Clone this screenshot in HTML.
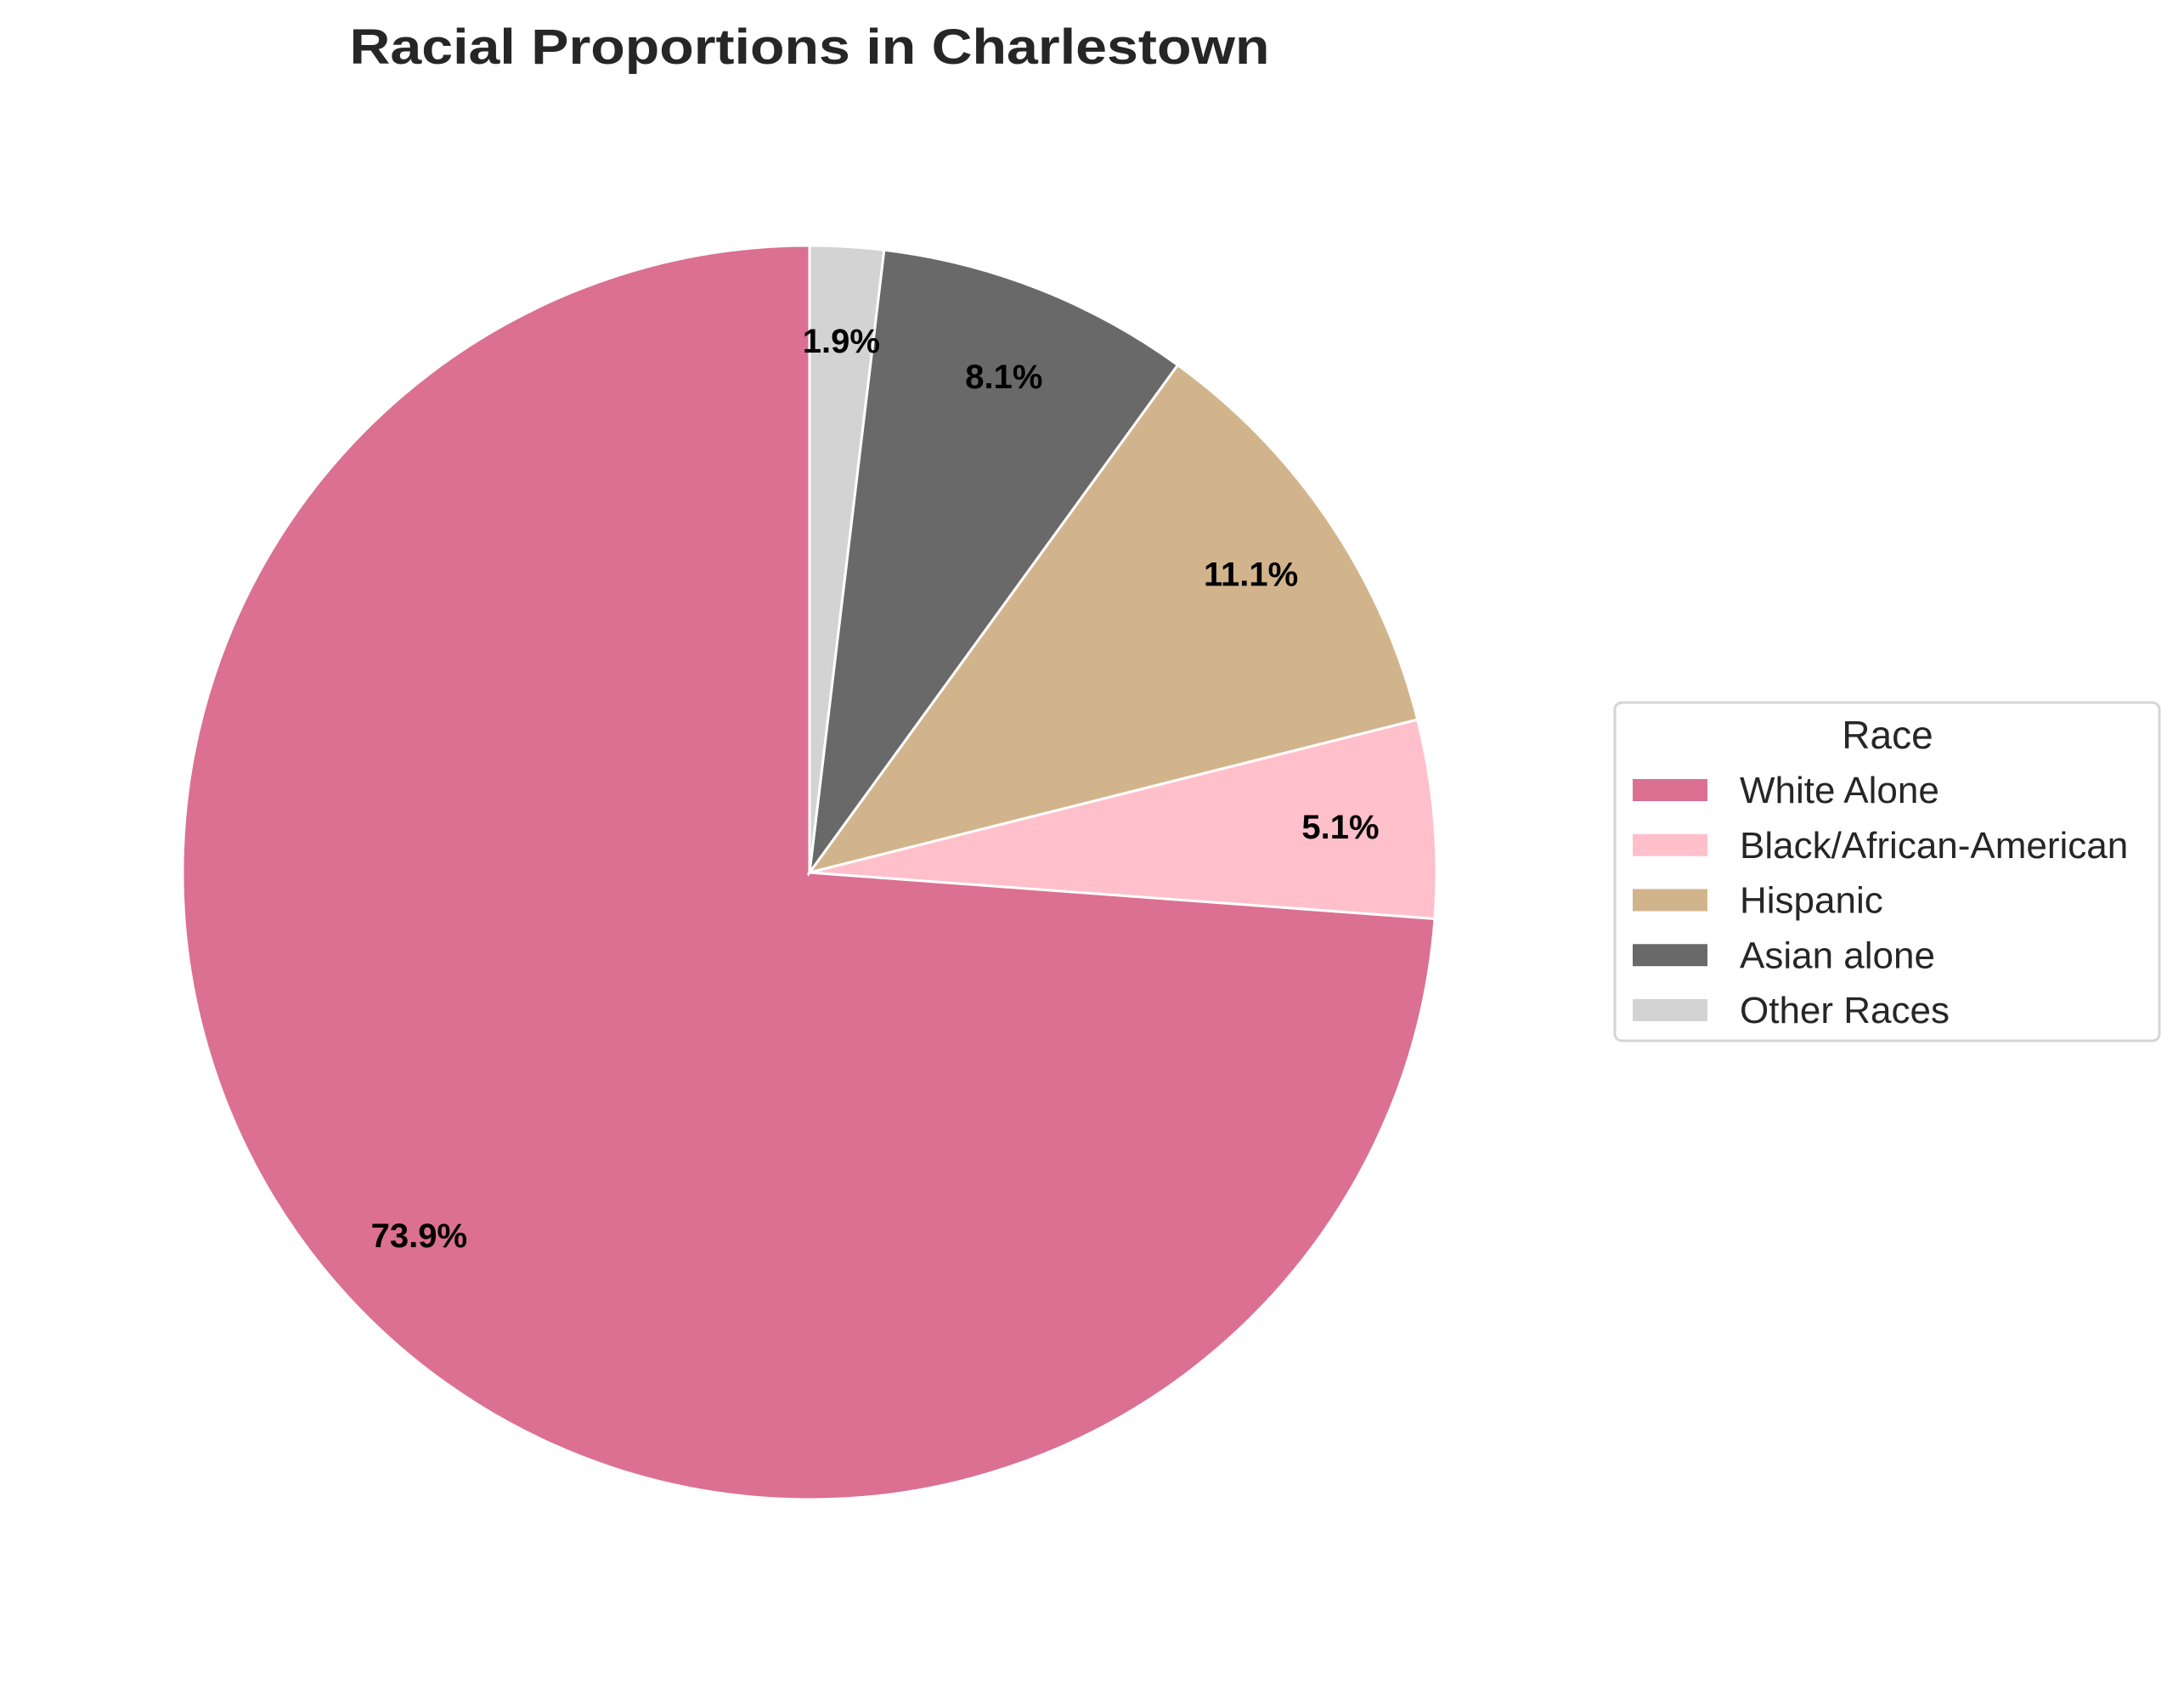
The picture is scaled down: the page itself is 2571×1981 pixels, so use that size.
<!DOCTYPE html>
<html><head><meta charset="utf-8"><style>
html,body{margin:0;padding:0;background:#fff;}
svg{display:block;font-family:"Liberation Sans",Arial,sans-serif;}
</style></head><body>
<svg id="chart" width="2571" height="1981" viewBox="0 0 2571 1981">
<text x="953" y="75" text-anchor="middle" font-size="58" font-weight="bold" fill="#262626" textLength="1083" lengthAdjust="spacingAndGlyphs">Racial Proportions in Charlestown</text>
<g id="slices"></g>
<g id="labels"></g>
<g>
<rect x="1901" y="827" width="641" height="398" rx="8" fill="#fff" stroke="#d5d5d5" stroke-width="3"/>
<text x="2222" y="881" text-anchor="middle" font-size="46" fill="#262626">Race</text>
<g id="legend-items"></g>
</g>
</svg>
<script>
const categories = ["White Alone","Black/African-American","Hispanic","Asian alone","Other Races"];
const values = [73.9,5.1,11.1,8.1,1.9];
const colors = ["#db7092","#ffc0cb","#d2b48c","#696969","#d3d3d3"];
const NS="http://www.w3.org/2000/svg";
const cx=953, cy=1027, R=738;
const total=values.reduce((a,b)=>a+b,0);
function pt(angDeg,r){const a=angDeg*Math.PI/180;return [cx+r*Math.cos(a), cy-r*Math.sin(a)];}
const slices=document.getElementById('slices'), labels=document.getElementById('labels'), leg=document.getElementById('legend-items');
let start=90;
values.forEach((v,i)=>{
  const sweep=v/total*360, end=start+sweep;
  const [x1,y1]=pt(start,R), [x2,y2]=pt(end,R);
  const p=document.createElementNS(NS,'path');
  p.setAttribute('d',`M${cx},${cy} L${x1},${y1} A${R},${R} 0 ${sweep>180?1:0} 0 ${x2},${y2} Z`);
  p.setAttribute('fill',colors[i]);p.setAttribute('stroke','#fff');p.setAttribute('stroke-width','3');
  
  
  slices.appendChild(p);
  const [lx,ly]=pt((start+end)/2,R*0.85);
  const t=document.createElementNS(NS,'text');
  t.setAttribute('x',lx);t.setAttribute('y',ly+14);t.setAttribute('text-anchor','middle');
  t.setAttribute('font-size','40');t.setAttribute('font-weight','bold');t.setAttribute('fill','#000');
  t.textContent=v.toFixed(1)+'%';
  
  
  labels.appendChild(t);
  const y=930+i*64.75;
  const r=document.createElementNS(NS,'rect');
  r.setAttribute('x',1922);r.setAttribute('y',y-13);r.setAttribute('width',88);r.setAttribute('height',26);r.setAttribute('fill',colors[i]);
  
  
  leg.appendChild(r);
  const lt=document.createElementNS(NS,'text');
  lt.setAttribute('x',2048);lt.setAttribute('y',y+15);lt.setAttribute('font-size','44');lt.setAttribute('fill','#262626');
  lt.textContent=categories[i];
  
  
  leg.appendChild(lt);
  start=end;
});
</script>
</body></html>
